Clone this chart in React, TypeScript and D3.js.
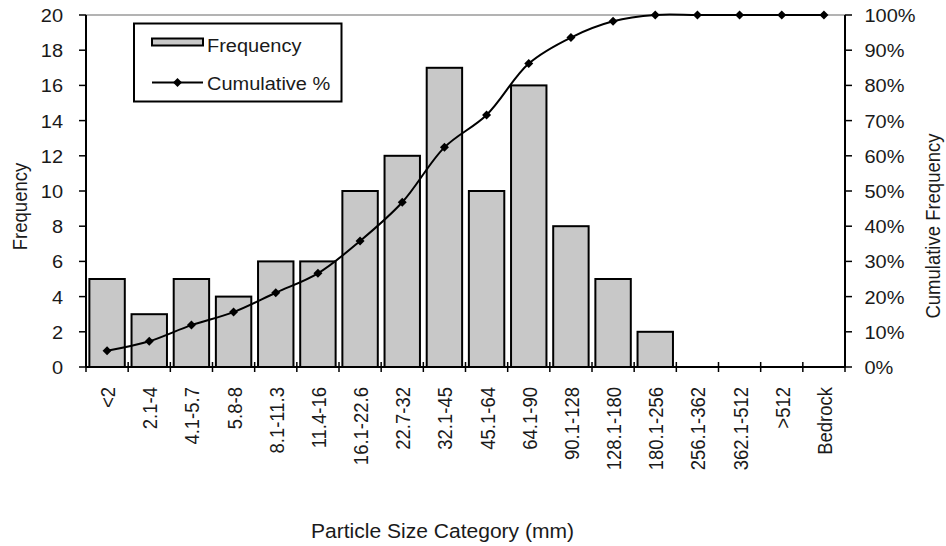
import React from "react";
import * as d3 from "d3";

const categories = [
  "<2", "2.1-4", "4.1-5.7", "5.8-8", "8.1-11.3", "11.4-16", "16.1-22.6", "22.7-32",
  "32.1-45", "45.1-64", "64.1-90", "90.1-128", "128.1-180", "180.1-256", "256.1-362",
  "362.1-512", ">512", "Bedrock",
];
const frequency = [5, 3, 5, 4, 6, 6, 10, 12, 17, 10, 16, 8, 5, 2, 0, 0, 0, 0];
const cumulative = [4.6, 7.3, 11.9, 15.6, 21.1, 26.6, 35.8, 46.8, 62.4, 71.6, 86.2, 93.6, 98.2, 100, 100, 100, 100, 100];
const leftTicks = [0, 2, 4, 6, 8, 10, 12, 14, 16, 18, 20];
const rightTicks = [0, 10, 20, 30, 40, 50, 60, 70, 80, 90, 100];

const FONT = "'Liberation Sans', Arial, sans-serif";
const FS = 18.5;
const SX = 1.08; // slightly wide lettering

type TProps = {
  x: number;
  y: number;
  rot?: number;
  anchor?: "start" | "middle" | "end";
  size?: number;
  dy?: string;
  children: React.ReactNode;
};

function T({ x, y, rot = 0, anchor = "start", size = FS, dy, children }: TProps) {
  return (
    <text
      transform={`translate(${x},${y}) scale(${SX},1)${rot ? ` rotate(${rot})` : ""}`}
      textAnchor={anchor}
      fontSize={size}
      dy={dy}
      fill="#1a1a1a"
    >
      {children}
    </text>
  );
}

export default function App() {
  const W = 946, H = 546;
  const m = { l: 86, r: 845, t: 15, b: 367 };
  const x = d3.scaleBand<string>().domain(categories).range([m.l, m.r]).paddingInner(0.16).paddingOuter(0.08);
  const xb = d3.scaleBand<string>().domain(categories).range([m.l, m.r]);
  const yL = d3.scaleLinear().domain([0, 20]).range([m.b, m.t]);
  const yR = d3.scaleLinear().domain([0, 100]).range([m.b, m.t]);
  const cx = (i: number) => (xb(categories[i]) as number) + xb.bandwidth() / 2;
  const line = d3.line<number>()
    .x((_, i) => cx(i))
    .y((d) => yR(d))
    .curve(d3.curveCatmullRom.alpha(0.5));
  const diamond = (px: number, py: number, s: number) =>
    `M${px},${py - s}L${px + s},${py}L${px},${py + s}L${px - s},${py}Z`;
  const boundaries = d3.range(categories.length + 1).map((i) => m.l + i * xb.step());

  return (
    <svg width={W} height={H} style={{ position: "absolute", left: 0, top: 0, background: "#fff" }} fontFamily={FONT}>
      {/* top border of the plot area */}
      <line x1={m.l} x2={m.r} y1={m.t} y2={m.t} stroke="#9a9a9a" strokeWidth={1.5} />
      {/* frequency bars */}
      {frequency.map((f, i) =>
        f > 0 ? (
          <rect key={i} x={x(categories[i])} y={yL(f)} width={x.bandwidth()} height={yL(0) - yL(f)}
            fill="#c8c8c8" stroke="#000" strokeWidth={2} />
        ) : null
      )}
      {/* axes */}
      <line x1={m.l} x2={m.l} y1={m.t} y2={m.b} stroke="#000" strokeWidth={2} />
      <line x1={m.r} x2={m.r} y1={m.t} y2={m.b} stroke="#000" strokeWidth={2} />
      <line x1={m.l} x2={m.r} y1={m.b} y2={m.b} stroke="#000" strokeWidth={2} />
      {leftTicks.map((t) => (
        <g key={t}>
          <line x1={m.l - 7} x2={m.l} y1={yL(t)} y2={yL(t)} stroke="#000" strokeWidth={1.5} />
          <T x={63} y={yL(t)} anchor="end" dy="0.38em">{t}</T>
        </g>
      ))}
      {rightTicks.map((t) => (
        <g key={t}>
          <line x1={m.r} x2={m.r + 7} y1={yR(t)} y2={yR(t)} stroke="#000" strokeWidth={1.5} />
          <T x={864.5} y={yR(t)} anchor="start" dy="0.38em">{t}%</T>
        </g>
      ))}
      {boundaries.map((bx, i) => (
        <line key={i} x1={bx} x2={bx} y1={m.b - 5} y2={m.b + 5} stroke="#000" strokeWidth={1.5} />
      ))}
      {categories.map((c, i) => (
        <T key={c} x={cx(i) + 8} y={387} rot={-90} anchor="end">{c}</T>
      ))}
      {/* cumulative percentage line */}
      <path d={line(cumulative) || ""} fill="none" stroke="#000" strokeWidth={2} />
      {cumulative.map((v, i) => (
        <path key={i} d={diamond(cx(i), yR(v), 4.5)} fill="#000" />
      ))}
      {/* legend */}
      <rect x={134} y={23.5} width={207.5} height={78} fill="#fff" stroke="#000" strokeWidth={2} />
      <rect x={152} y={38.5} width={51} height={7} fill="#c8c8c8" stroke="#000" strokeWidth={2} />
      <T x={207} y={52}>Frequency</T>
      <line x1={152} x2={203} y1={82.5} y2={82.5} stroke="#000" strokeWidth={2} />
      <path d={diamond(177.5, 82.5, 4.5)} fill="#000" />
      <T x={207} y={90}>Cumulative %</T>
      {/* axis titles */}
      <T x={442.5} y={538} anchor="middle" size={19.5}>Particle Size Category (mm)</T>
      <T x={27} y={206.5} rot={-90} anchor="middle">Frequency</T>
      <T x={939.5} y={226} rot={-90} anchor="middle">Cumulative Frequency</T>
    </svg>
  );
}
